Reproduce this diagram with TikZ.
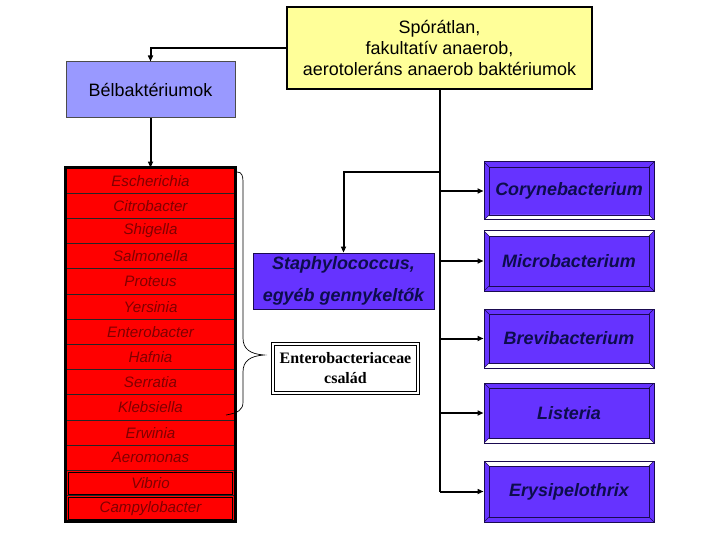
\documentclass[tikz,border=0pt]{standalone}
\usepackage{fontspec}
\setmainfont{Liberation Sans}
\newfontfamily\tnr{Liberation Serif}
\usetikzlibrary{arrows.meta}
\definecolor{yel}{HTML}{FFFF99}
\definecolor{lav}{HTML}{9999FF}
\definecolor{vio}{HTML}{6633FF}
\definecolor{vdark}{HTML}{1A0A50}
\definecolor{vtext}{HTML}{0D0D4D}
\definecolor{rtext}{HTML}{800000}
\tikzset{
  conn/.style={line width=2bp, draw=black},
  tip/.style={-{Triangle[length=6bp,width=5bp]}},
  redrow/.style={draw=black!85, line width=0.8bp, fill=red, minimum width=169bp, minimum height=25.2bp, inner sep=0pt,
     font=\fontsize{15.2}{15}\selectfont\itshape, text=rtext},
  pbox/.style={fill=vio, draw=vdark, line width=1bp, minimum width=170bp, minimum height=#1, inner sep=0pt,
     font=\fontsize{18}{18}\selectfont\bfseries\itshape, text=vtext},
  bevel/.style={path picture={
     \coordinate (pnw) at (path picture bounding box.north west);
     \coordinate (pse) at (path picture bounding box.south east);
     \coordinate (pne) at (path picture bounding box.north east);
     \coordinate (psw) at (path picture bounding box.south west);
     \ifnum#1=1
       \fill[white] (psw) -- (pse) -- ([shift={(-5,-5)}]pse) -- ([shift={(5,-5)}]psw) -- cycle;
     \else
       \fill[white] (pnw) -- (pne) -- ([shift={(-5,5)}]pne) -- ([shift={(5,5)}]pnw) -- cycle;
     \fi
     \draw[vdark, line width=0.9bp] ([shift={(5,5)}]pnw) rectangle ([shift={(-5,-5)}]pse);
     \draw[vdark, line width=0.6bp] (pnw) -- ([shift={(5,5)}]pnw) (pne) -- ([shift={(-5,5)}]pne)
        (psw) -- ([shift={(5,-5)}]psw) (pse) -- ([shift={(-5,-5)}]pse);
  }}
}
\begin{document}
\begin{tikzpicture}[x=1bp,y=-1bp]
\useasboundingbox[fill=white] (0,0) rectangle (720,540);

% top box
\node[draw=black, line width=1.2bp, fill=yel, minimum width=305bp, minimum height=82bp, inner sep=0pt,
      align=center, font=\fontsize{18}{21.5}\selectfont] (yel) at (439.5,48)
      {Spórátlan,\\fakultatív anaerob,\\aerotoleráns anaerob baktériumok};

% Bélbaktériumok
\node[draw=black!70, line width=1bp, fill=lav, minimum width=169bp, minimum height=56bp, inner sep=0pt,
      font=\fontsize{18}{18}\selectfont] (bel) at (150.5,90) {Bélbaktériumok};

% red stack
\foreach \t [count=\i] in {Escherichia,Citrobacter,Shigella,Salmonella,Proteus,Yersinia,Enterobacter,Hafnia,Serratia,Klebsiella,Erwinia,Aeromonas,Vibrio,Campylobacter}{
  \node[redrow] (r\i) at (150.5,{168+12.6+25.2*(\i-1)}) {\t};
}
\draw[line width=0.6bp, black] ([shift={(3,2)}]r13.north west) rectangle ([shift={(-3,-2)}]r13.south east);
\draw[line width=0.6bp, black] ([shift={(3,2)}]r14.north west) rectangle ([shift={(-3,-2)}]r14.south east);
\draw[line width=2.6bp, black] (r1.north west) rectangle (r14.south east);

% Staphylococcus
\node[fill=vio, draw=vdark, line width=0.8bp, minimum width=181bp, minimum height=56bp, inner sep=0pt,
      align=center, font=\fontsize{18}{18}\selectfont\bfseries\itshape, text=vtext] (sta) at (343.5,281)
      {Staphylococcus,\\[14bp]egyéb gennykeltők};

% Enterobacteriaceae
\node[draw=black, line width=0.8bp, double=white, double distance=2.4bp, fill=white,
      minimum width=145bp, minimum height=49bp, inner sep=0pt, align=center,
      font=\fontsize{16}{20}\selectfont\tnr\bfseries] (ent) at (345.5,368.5)
      {Enterobacteriaceae\\család};

% right boxes
\node[pbox=58bp, bevel=1] (cor) at (569,191) {Corynebacterium};
\node[pbox=60bp, bevel=0] (mic) at (569,261) {Microbacterium};
\node[pbox=59bp, bevel=1] (bre) at (569,338.5) {Brevibacterium};
\node[pbox=60bp, bevel=1] (lis) at (569,413) {Listeria};
\node[pbox=61bp, bevel=0] (ery) at (569,491.5) {Erysipelothrix};

% connectors
\draw[conn, tip] (yel.west) -| (bel.north);
\draw[conn, tip] (bel.south) -- (r1.north);
\coordinate (tend) at (yel.south |- ery.west);
\draw[conn] (yel.south) -- (tend);
\coordinate (j1) at ([yshift=-82bp]yel.south);
\draw[conn, tip] (j1) -| (sta.north);
\foreach \b in {cor,mic,bre,lis,ery}{
  \draw[conn, tip] (yel.south |- \b.west) -- (\b.west);
}

% brace
\draw[line width=0.7bp] (237,172) .. controls (242,172) and (243,176) .. (243,182) -- (243,338)
  .. controls (243,349) and (250,354) .. (264,355)
  .. controls (250,356) and (243,361) .. (243,372) -- (243,402)
  .. controls (243,410) and (238,413) .. (226,415);
\end{tikzpicture}
\end{document}
